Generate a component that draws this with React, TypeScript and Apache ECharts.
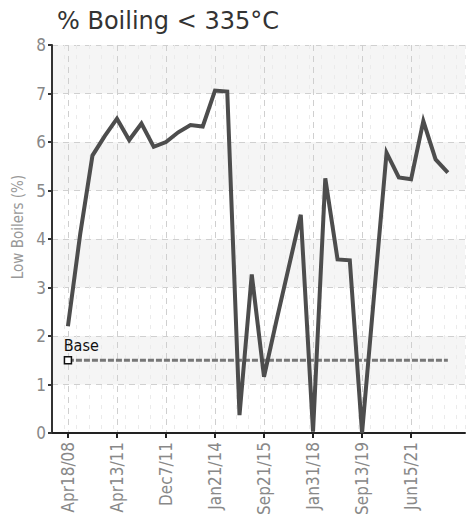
import React, { useEffect, useRef } from "react";
import * as echarts from "echarts";

const TITLE = "% Boiling < 335°C";
const Y_NAME = "Low Boilers (%)";
const BASE_LABEL = "Base";

// Tick labels shown on the category (sample) axis and the sample index they sit on
const tickLabels = ["Apr18/08", "Apr13/11", "Dec7/11", "Jan21/14", "Sep21/15", "Jan31/18", "Sep13/19", "Jun15/21"];
const tickIndices = [0, 4, 8, 12, 16, 20, 24, 28];

// Low boilers (%) per sample, in order
const lowBoilers = [
  2.2, 4.1, 5.72, 6.12, 6.48, 6.04, 6.38, 5.9,
  6.0, 6.2, 6.35, 6.32, 7.06, 7.04, 0.37, 3.27,
  1.16, 2.3, 3.4, 4.5, 0.03, 5.25, 3.58, 3.56,
  0.0, 2.9, 5.78, 5.27, 5.23, 6.43, 5.64, 5.37,
];

const baseValue = 1.5;
const yTicks = [0, 1, 2, 3, 4, 5, 6, 7, 8];

const FONT_NARROW = "'Liberation Sans Narrow', 'DejaVu Sans Condensed', 'Liberation Sans', sans-serif";

export default function App() {
  const ref = useRef<HTMLDivElement>(null);
  useEffect(() => {
    if (!ref.current) return;
    const chart = echarts.init(ref.current, undefined, { renderer: "svg" });
    const lastIdx = lowBoilers.length - 1;
    chart.setOption({
      animation: false,
      backgroundColor: "#ffffff",
      title: {
        text: TITLE,
        left: 52,
        top: 4,
        textStyle: { fontFamily: "'DejaVu Sans', Verdana, sans-serif", fontSize: 24, fontWeight: "normal", color: "#333" },
      },
      grid: { left: 52, right: 9, top: 45, bottom: 85 },
      xAxis: [
        {
          type: "value",
          min: -1.3,
          max: 32.4,
          axisLine: { show: true, onZero: false, lineStyle: { color: "#222", width: 2 } },
          axisTick: { show: true, length: 5, customValues: tickIndices, lineStyle: { color: "#222", width: 2 } },
          axisLabel: {
            customValues: tickIndices,
            rotate: 90,
            margin: 9,
            color: "#888",
            fontSize: 17,
            fontFamily: FONT_NARROW,
            formatter: (v: number) => {
              const k = tickIndices.indexOf(Math.round(v));
              return k >= 0 ? tickLabels[k] : "";
            },
          },
          splitLine: { show: true, lineStyle: { color: "#cfcfcf", type: [6, 5], width: 1 } },
        },
        {
          type: "value",
          min: -1.3,
          max: 32.4,
          interval: 1,
          position: "bottom",
          axisLine: { show: false, onZero: false },
          axisTick: { show: false },
          axisLabel: { show: false },
          splitLine: { show: true, lineStyle: { color: "#ebebeb", type: [4, 6], width: 1 } },
        },
      ],
      yAxis: {
        type: "value",
        min: 0,
        max: 8,
        interval: 1,
        name: Y_NAME,
        nameLocation: "middle",
        nameGap: 26,
        nameRotate: 90,
        nameTextStyle: { color: "#999", fontSize: 15, fontFamily: FONT_NARROW, padding: [0, 0, 0, 24] },
        axisLine: { show: true, onZero: false, lineStyle: { color: "#333", width: 2 } },
        axisTick: { show: true, length: 4, lineStyle: { color: "#333", width: 2 } },
        axisLabel: {
          color: "#888",
          fontSize: 17,
          fontFamily: FONT_NARROW,
          margin: 6,
          formatter: (v: number) => (yTicks.indexOf(v) >= 0 ? String(v) : ""),
        },
        splitLine: { show: true, lineStyle: { color: "#d0d0d0", type: [6, 5], width: 1 } },
        splitArea: { show: true, areaStyle: { color: ["#ffffff", "#f5f5f5"] } },
      },
      series: [
        {
          type: "line",
          xAxisIndex: 0,
          data: [
            { value: [0, baseValue], symbol: "rect", symbolSize: 7, label: { show: true, formatter: BASE_LABEL, position: [0, -19], color: "#111", fontSize: 16, fontFamily: FONT_NARROW } },
            { value: [lastIdx, baseValue], symbol: "none" },
          ],
          showSymbol: true,
          itemStyle: { color: "#ffffff", borderColor: "#111", borderWidth: 1.5 },
          lineStyle: { color: "#777", width: 3, type: [6, 2] },
          z: 3,
        },
        {
          type: "line",
          xAxisIndex: 0,
          data: lowBoilers.map((v, i) => [i, v]),
          showSymbol: false,
          symbol: "none",
          lineStyle: { color: "#4d4d4d", width: 4, join: "miter" },
          z: 4,
        },
      ],
    });
    return () => chart.dispose();
  }, []);
  return <div ref={ref} style={{ width: 474, height: 518, position: "absolute", left: 0, top: 0 }} />;
}
